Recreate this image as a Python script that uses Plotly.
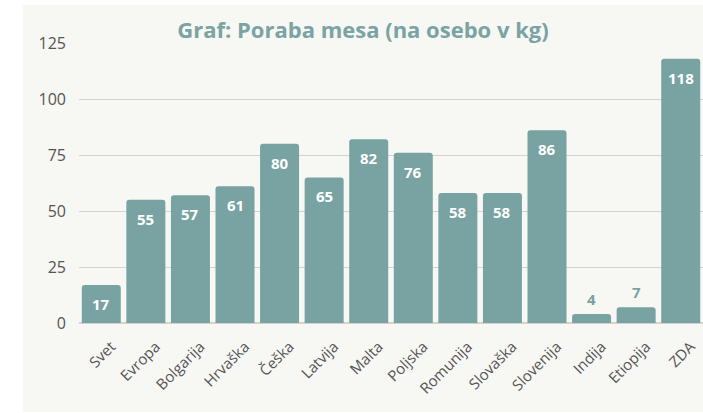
import plotly.graph_objects as go

categories = ["Svet", "Evropa", "Bolgarija", "Hrvaška", "Češka", "Latvija", "Malta",
              "Poljska", "Romunija", "Slovaška", "Slovenija", "Indija", "Etiopija", "ZDA"]
values = [17, 55, 57, 61, 80, 65, 82, 76, 58, 58, 86, 4, 7, 118]
y_ticks = [0, 25, 50, 75, 100, 125]
title_text = "Graf: Poraba mesa (na osebo v kg)"

BAR = "#78a3a2"
W, H = 703, 413
L, R, T, B = 79, 0, 43, 90
pw, ph = W - L - R, H - T - B

fig = go.Figure()
fig.add_trace(go.Bar(
    x=categories, y=values, marker=dict(color=BAR, cornerradius=3, line=dict(width=0)),
    hoverinfo="x+y",
))

annotations = []
for c, v in zip(categories, values):
    inside = v >= 12
    annotations.append(dict(
        x=c, y=v, xref="x", yref="y", text=f"<b>{v}</b>", showarrow=False,
        yanchor="middle", yshift=-19 if inside else 15,
        font=dict(family="Open Sans", size=15, color="white" if inside else BAR),
    ))

# light panel behind chart
fig.add_shape(type="rect", xref="paper", yref="paper",
              x0=(23 - L) / pw, x1=1.01, y0=(H - B - 412) / ph, y1=(H - B - 5) / ph,
              fillcolor="#f7f7f3", line=dict(width=0), layer="below")

fig.update_layout(
    width=W, height=H,
    margin=dict(l=L, r=R, t=T, b=B, pad=0),
    paper_bgcolor="white", plot_bgcolor="rgba(0,0,0,0)",
    bargap=0.125,
    showlegend=False,
    font=dict(family="Open Sans", color="#555555"),
    title=dict(text=f"<b>{title_text}</b>", x=363 / W, xanchor="center",
               y=1 - 30 / H, yanchor="middle", yref="container",
               font=dict(family="Open Sans", size=22, color="#7aa3a3")),
    annotations=annotations,
    xaxis=dict(tickangle=-45, tickfont=dict(size=15, color="#555555"),
               showgrid=False, showline=False, ticks="",
               ticklabelstandoff=11, ticklabelshift=10),
    yaxis=dict(range=[0, 125], tickvals=y_ticks, tickfont=dict(size=16, color="#555555"),
               gridcolor="#d2d2ce", gridwidth=1, zeroline=True, zerolinecolor="#d2d2ce",
               showline=False, ticks="", ticklabelstandoff=12),
)

fig.write_html("out.html", config={"displayModeBar": False},
               post_script="document.body.style.margin='0';document.body.style.overflow='hidden';")
